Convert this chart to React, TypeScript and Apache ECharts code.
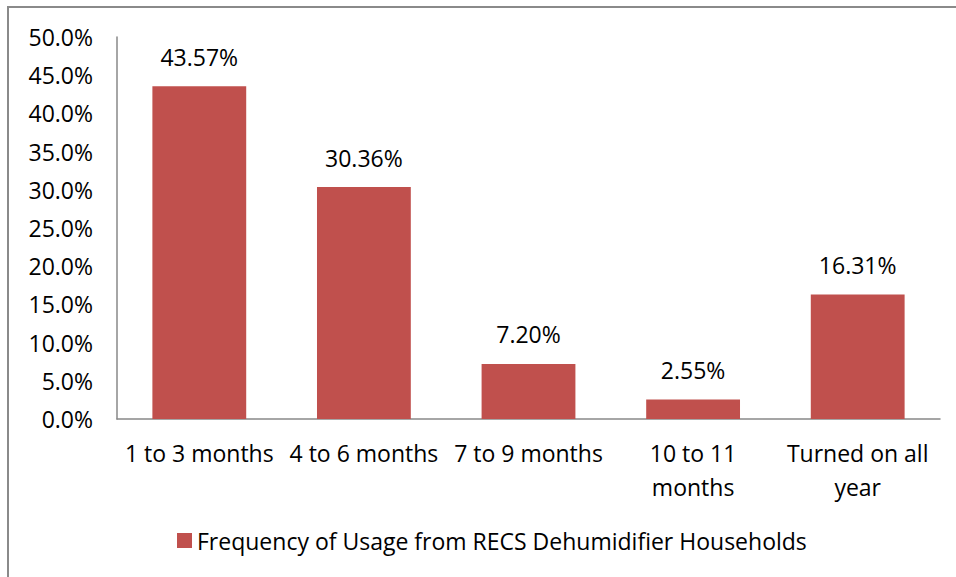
import React, { useEffect, useRef } from "react";
import * as echarts from "echarts";

const categories = ["1 to 3 months", "4 to 6 months", "7 to 9 months", "10 to 11\nmonths", "Turned on all\nyear"];
const values = [43.57, 30.36, 7.2, 2.55, 16.31];
const seriesName = "Frequency of Usage from RECS Dehumidifier Households";
const yMin = 0;
const yMax = 50;
const yInterval = 5;

const FONT = "'Open Sans', 'Noto Sans', sans-serif";
const FS = 23;

export default function App() {
  const ref = useRef<HTMLDivElement>(null);
  useEffect(() => {
    if (!ref.current) return;
    const chart = echarts.init(ref.current, null, { renderer: "svg" });
    chart.setOption({
      animation: false,
      backgroundColor: "#ffffff",
      textStyle: { fontFamily: FONT },
      graphic: [
        {
          type: "rect",
          shape: { x: 8, y: 7, width: 1000, height: 700 },
          style: { fill: "none", stroke: "#8a8a8a", lineWidth: 2 },
          silent: true,
        },
      ],
      grid: { left: 117, right: 16, top: 37, bottom: 158, containLabel: false },
      legend: {
        data: [seriesName],
        bottom: 20,
        left: 172,
        itemWidth: 15,
        itemHeight: 15,
        itemGap: 6,
        icon: "rect",
        textStyle: { fontFamily: FONT, fontSize: FS, color: "#000" },
      },
      xAxis: {
        type: "category",
        data: categories,
        axisLine: { lineStyle: { color: "#888888", width: 1.5 } },
        axisTick: { show: false },
        axisLabel: {
          color: "#000",
          fontFamily: FONT,
          fontSize: FS,
          margin: 17,
          lineHeight: 34,
          interval: 0,
        },
      },
      yAxis: {
        type: "value",
        min: yMin,
        max: yMax,
        interval: yInterval,
        axisLine: { show: true, lineStyle: { color: "#888888", width: 1.5 } },
        axisTick: { show: false },
        splitLine: { show: false },
        axisLabel: {
          color: "#000",
          fontFamily: FONT,
          fontSize: FS,
          margin: 24,
          formatter: (v: number) => v.toFixed(1) + "%",
        },
      },
      series: [
        {
          name: seriesName,
          type: "bar",
          data: values,
          barWidth: "57%",
          itemStyle: { color: "#C0504D" },
          label: {
            show: true,
            position: "top",
            distance: 18,
            color: "#000",
            fontFamily: FONT,
            fontSize: FS,
            formatter: (p: any) => p.value.toFixed(2) + "%",
          },
        },
      ],
    });
    return () => chart.dispose();
  }, []);
  return (
    <div
      ref={ref}
      style={{ position: "absolute", left: 0, top: 0, width: 956, height: 577 }}
    />
  );
}
